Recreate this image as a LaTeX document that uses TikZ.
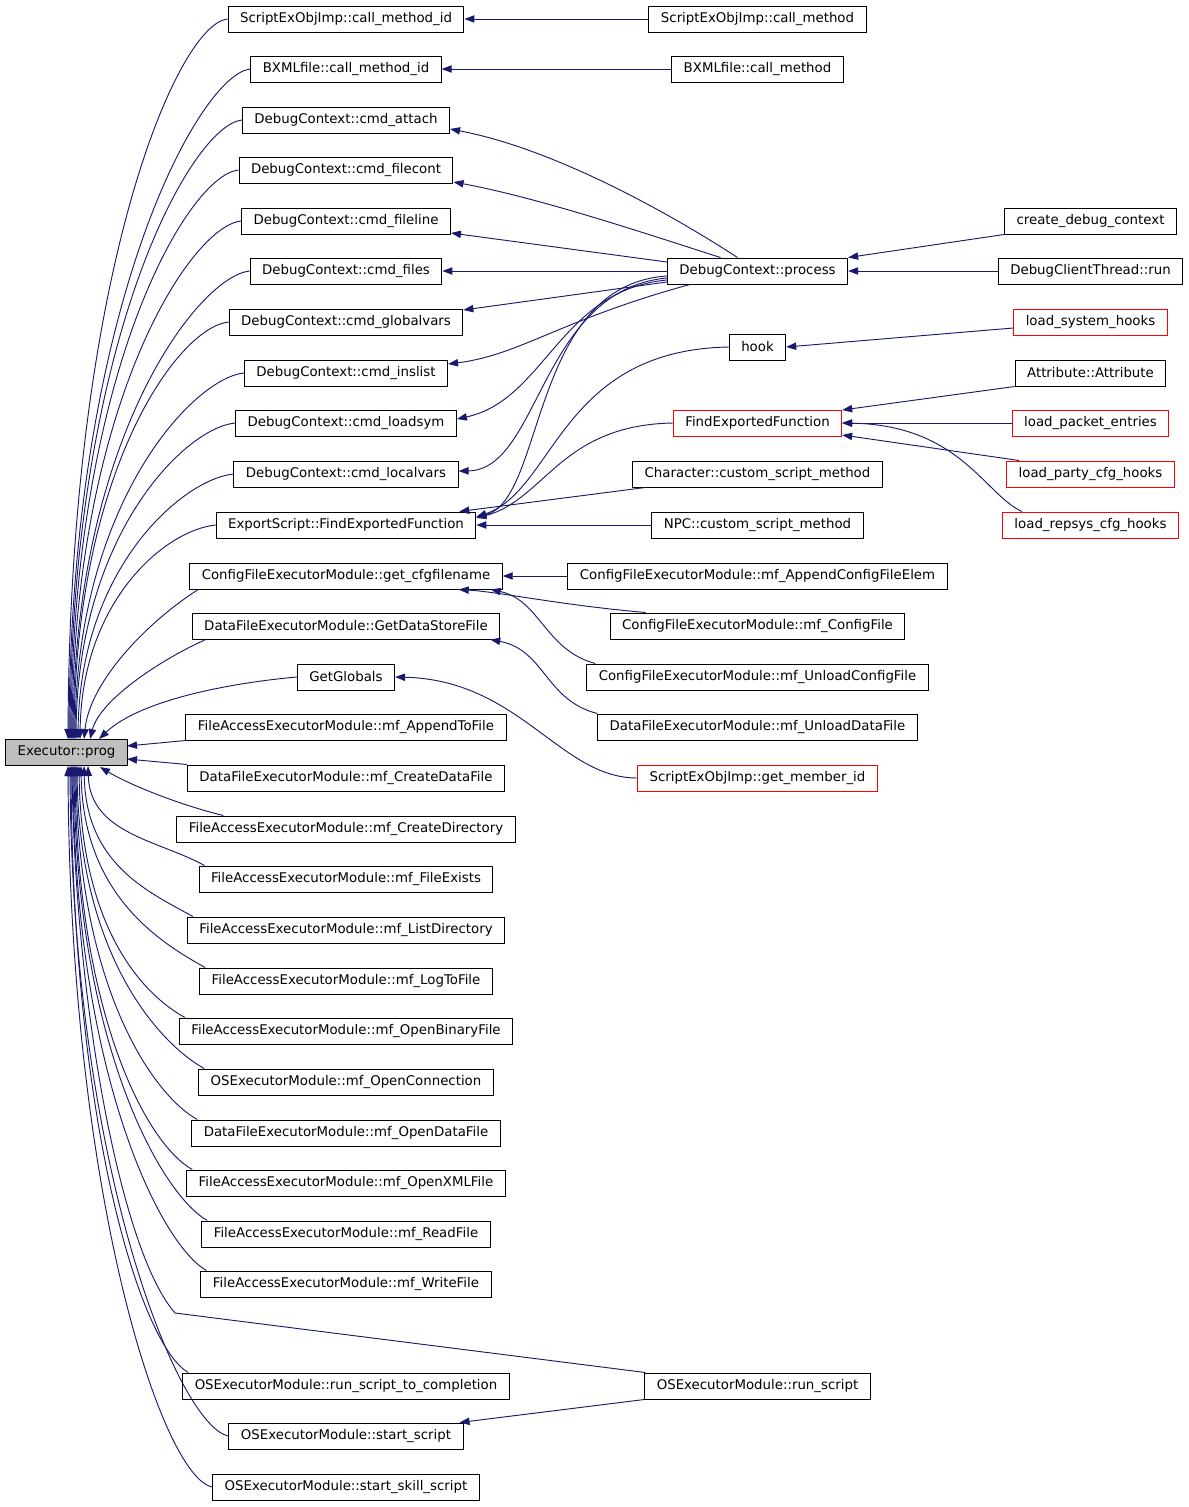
\documentclass[tikz,border=0pt]{standalone}
\usepackage{fontspec}
\setmainfont{DejaVu Sans}
\usepackage{tikz}
\usetikzlibrary{arrows.meta,calc}

\definecolor{edgeblue}{RGB}{25,25,112}
\definecolor{focusgray}{RGB}{191,191,191}

\begin{document}
\begin{tikzpicture}[x=0.75pt,y=-0.75pt,
    fn/.style={draw=black,line width=0.75pt,rectangle,inner xsep=9pt,inner ysep=0pt,
      minimum height=19.5pt,font=\fontsize{10pt}{12pt}\selectfont},
    undoc/.style={fn,draw=red},
    focus/.style={fn,fill=focusgray},
    call/.style={draw=edgeblue,line width=0.7pt,-{Triangle[length=7.5pt,width=5.5pt]}}]
  \useasboundingbox (0,0) rectangle (1189,1507);

  % the function itself
  \node[focus] (prog) at (66.5,752.5) {Executor::prog};

  % direct callers
  \node[fn] (cmid) at (346,19) {ScriptExObjImp::call\_method\_id};
  \node[fn] (bxid) at (346,69) {BXMLfile::call\_method\_id};
  \node[fn] (attach) at (346,120) {DebugContext::cmd\_attach};
  \node[fn] (filecont) at (346,170) {DebugContext::cmd\_filecont};
  \node[fn] (fileline) at (346,221) {DebugContext::cmd\_fileline};
  \node[fn] (files) at (346,271) {DebugContext::cmd\_files};
  \node[fn] (globalvars) at (346,322) {DebugContext::cmd\_globalvars};
  \node[fn] (inslist) at (346,373) {DebugContext::cmd\_inslist};
  \node[fn] (loadsym) at (346,423) {DebugContext::cmd\_loadsym};
  \node[fn] (localvars) at (346,474) {DebugContext::cmd\_localvars};
  \node[fn] (esfind) at (346,525) {ExportScript::FindExportedFunction};
  \node[fn] (getcfg) at (346,576) {ConfigFileExecutorModule::get\_cfgfilename};
  \node[fn] (getds) at (346,626) {DataFileExecutorModule::GetDataStoreFile};
  \node[fn] (globals) at (346,677) {GetGlobals};
  \node[fn] (append) at (346,727) {FileAccessExecutorModule::mf\_AppendToFile};
  \node[fn] (createdata) at (346,778) {DataFileExecutorModule::mf\_CreateDataFile};
  \node[fn] (createdir) at (346,829) {FileAccessExecutorModule::mf\_CreateDirectory};
  \node[fn] (exists) at (346,879) {FileAccessExecutorModule::mf\_FileExists};
  \node[fn] (listdir) at (346,930) {FileAccessExecutorModule::mf\_ListDirectory};
  \node[fn] (logto) at (346,981) {FileAccessExecutorModule::mf\_LogToFile};
  \node[fn] (openbin) at (346,1031) {FileAccessExecutorModule::mf\_OpenBinaryFile};
  \node[fn] (openconn) at (346,1082) {OSExecutorModule::mf\_OpenConnection};
  \node[fn] (opendata) at (346,1133) {DataFileExecutorModule::mf\_OpenDataFile};
  \node[fn] (openxml) at (346,1183) {FileAccessExecutorModule::mf\_OpenXMLFile};
  \node[fn] (readf) at (346,1234) {FileAccessExecutorModule::mf\_ReadFile};
  \node[fn] (writef) at (346,1284) {FileAccessExecutorModule::mf\_WriteFile};
  \node[fn] (rstc) at (346,1386) {OSExecutorModule::run\_script\_to\_completion};
  \node[fn] (startscr) at (346,1436) {OSExecutorModule::start\_script};
  \node[fn] (startskill) at (346,1487) {OSExecutorModule::start\_skill\_script};

  % second level
  \node[fn] (cm) at (757.5,19) {ScriptExObjImp::call\_method};
  \node[fn] (bxcm) at (757.5,69) {BXMLfile::call\_method};
  \node[fn] (process) at (757.5,271) {DebugContext::process};
  \node[fn] (hook) at (757.5,347) {hook};
  \node[undoc] (findexp) at (757.5,423) {FindExportedFunction};
  \node[fn] (charcsm) at (757.5,474) {Character::custom\_script\_method};
  \node[fn] (npccsm) at (757.5,525) {NPC::custom\_script\_method};
  \node[fn] (appendcfg) at (757.5,576) {ConfigFileExecutorModule::mf\_AppendConfigFileElem};
  \node[fn] (cfgfile) at (757.5,626) {ConfigFileExecutorModule::mf\_ConfigFile};
  \node[fn] (unloadcfg) at (757.5,677) {ConfigFileExecutorModule::mf\_UnloadConfigFile};
  \node[fn] (unloaddata) at (757.5,727) {DataFileExecutorModule::mf\_UnloadDataFile};
  \node[undoc] (getmember) at (757.5,778) {ScriptExObjImp::get\_member\_id};
  \node[fn] (runscr) at (757.5,1386) {OSExecutorModule::run\_script};

  % third level
  \node[fn] (createdbg) at (1090.5,221) {create\_debug\_context};
  \node[fn] (dbgrun) at (1090.5,271) {DebugClientThread::run};
  \node[undoc] (loadsys) at (1090.5,322) {load\_system\_hooks};
  \node[fn] (attrib) at (1090.5,373) {Attribute::Attribute};
  \node[undoc] (loadpacket) at (1090.5,423) {load\_packet\_entries};
  \node[undoc] (loadparty) at (1090.5,474) {load\_party\_cfg\_hooks};
  \node[undoc] (loadrepsys) at (1090.5,525) {load\_repsys\_cfg\_hooks};

  % calls into Executor::prog from above
  \foreach \n/\y/\ex in {cmid/19/68,bxid/69/69,attach/120/70,filecont/170/71,
      fileline/221/72,files/271/73,globalvars/322/74,inslist/373/75,
      loadsym/423/76,localvars/474/78,esfind/525/80}
    \draw[call] (\n.west) .. controls +(-50,5) and +(2,{-0.65*(739-\y)}) .. (\ex,739);
  \draw[call] ($(getcfg.south west)+(9,0)$) .. controls (150,620) and (90,680) .. (84,739);
  \draw[call] ($(getds.south west)+(14,0)$) .. controls (160,660) and (100,700) .. (90,739);
  \draw[call] (globals.west) .. controls (230,683) and (140,700) .. (99,739);
  \draw[call] (append.south west) -- (127,746);
  \draw[call] (createdata.north west) -- (127,759);
  \draw[call] ($(createdir.north west)+(47,0)$) .. controls (180,805) and (130,785) .. (100,767);
  % calls into Executor::prog from below
  \foreach \n/\y/\ex in {exists/879/88,listdir/930/84,logto/981/81,openbin/1031/79,
      openconn/1082/77,opendata/1133/76,openxml/1183/75,readf/1234/74,
      writef/1284/73,rstc/1386/71}
    \draw[call] ($(\n.north west)+(6,0)$) .. controls +(-45,-25) and +(2,{0.6*(\y-766)}) .. (\ex,766);
  \foreach \n/\y/\ex in {startscr/1436/70,startskill/1487/68}
    \draw[call] (\n.west) .. controls +(-50,-10) and +(2,{0.6*(\y-766)}) .. (\ex,766);
  \draw[call] ($(runscr.north west)+(1,0)$) -- (175,1313) .. controls (120,1250) and (75,1000) .. (72,766);

  % second level calls
  \draw[call] (cm.west) -- (cmid.east);
  \draw[call] (bxcm.west) -- (bxid.east);
  \draw[call] ($(process.north)+(-20,0)$) .. controls (680,220) and (560,150) .. ($(attach.east)+(0,9)$);
  \draw[call] ($(process.north)+(-37,0)$) .. controls (650,235) and (540,198) .. ($(filecont.east)+(0,12)$);
  \draw[call] ($(process.west)+(0,-9)$) -- ($(fileline.east)+(0,12)$);
  \draw[call] (process.west) -- (files.east);
  \draw[call] ($(process.west)+(0,11)$) -- ($(globalvars.east)+(0,-12)$);
  \draw[call] ($(process.south west)+(23,0)$) .. controls (560,320) and (520,355) .. ($(inslist.east)+(0,-9)$);
  \draw[call] ($(process.west)+(0,9)$) .. controls (560,290) and (545,400) .. ($(loadsym.east)+(0,-4)$);
  \draw[call] ($(process.west)+(0,7)$) .. controls (540,290) and (540,470) .. ($(localvars.east)+(0,-3)$);
  \draw[call] ($(process.west)+(0,5)$) .. controls (530,285) and (545,500) .. ($(esfind.east)+(0,-8)$);
  \draw[call] (hook.west) .. controls (560,350) and (555,490) .. ($(esfind.east)+(0,-8)$);
  \draw[call] (findexp.west) .. controls (560,425) and (545,500) .. ($(esfind.east)+(0,-7)$);
  \draw[call] ($(charcsm.south west)+(13,0)$) -- ($(esfind.north east)+(-17,0)$);
  \draw[call] (npccsm.west) -- (esfind.east);
  \draw[call] (appendcfg.west) -- (getcfg.east);
  \draw[call] ($(cfgfile.north west)+(36,0)$) .. controls (560,605) and (500,592) .. ($(getcfg.south east)+(-44,0)$);
  \draw[call] ($(unloadcfg.north west)+(9,0)$) .. controls (545,650) and (540,600) .. ($(getcfg.south east)+(-12,0)$);
  \draw[call] (unloaddata.north west) .. controls (545,700) and (545,650) .. ($(getds.south east)+(-10,0)$);
  \draw[call] (getmember.west) .. controls (560,778) and (520,680) .. (globals.east);
  \draw[call] (runscr.south west) -- ($(startscr.north east)+(-4,0)$);

  % third level calls
  \draw[call] (createdbg.south west) -- (process.north east);
  \draw[call] (dbgrun.west) -- (process.east);
  \draw[call] ($(loadsys.west)+(0,6)$) -- (hook.east);
  \draw[call] (attrib.south west) -- ($(findexp.east)+(0,-13)$);
  \draw[call] (loadpacket.west) -- (findexp.east);
  \draw[call] ($(loadparty.north west)+(13,0)$) -- ($(findexp.east)+(0,12)$);
  \draw[call] ($(loadrepsys.north west)+(20,0)$) .. controls (985,495) and (960,425) .. (findexp.east);
\end{tikzpicture}
\end{document}
